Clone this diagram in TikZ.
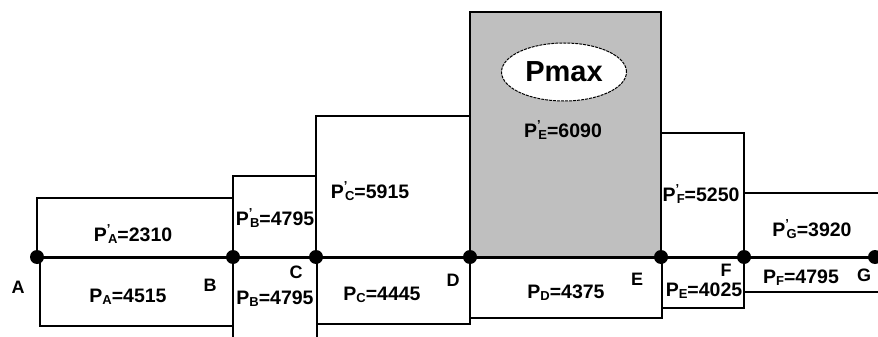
\documentclass[tikz,border=0pt]{standalone}
\usepackage{fontspec}
\setmainfont{Liberation Sans}
\usetikzlibrary{shapes.geometric}

\newcommand{\subl}[1]{\raisebox{-0.1em}{\fontsize{13}{13}\selectfont #1}}
\newcommand{\pval}[2]{P\subl{#1}=#2}
\newcommand{\ppval}[2]{P\raisebox{0.42em}{\fontsize{13}{13}\selectfont '}\kern-0.12em\subl{#1}=#2}

\begin{document}
\begin{tikzpicture}[x=1pt, y=-1pt, line width=1.2pt,
    font=\fontsize{18}{18}\selectfont\bfseries,
    dot/.style={circle, fill=black, inner sep=0pt, minimum size=14pt},
    val/.style={inner sep=0pt, font=\fontsize{19.5}{19.5}\selectfont\bfseries}]
  \useasboundingbox (0,0) rectangle (878,337);
  \coordinate (A) at (37,257);
  \coordinate (B) at (233,257);
  \coordinate (C) at (316,257);
  \coordinate (D) at (470,257);
  \coordinate (E) at (661,257);
  \coordinate (F) at (744,257);
  \coordinate (G) at (875,257);
  % upper part
  \fill[gray!50] (470,12) rectangle (661,257);
  \draw (470,12) rectangle (661,257);
  \draw (A) -- (37,198) -- (233,198) -- (B);
  \draw (B) -- (233,176) -- (316,176) -- (C);
  \draw (C) -- (316,116) -- (470,116) -- (D);
  \draw (E) -- (661,133) -- (744,133) -- (F);
  \draw (F) -- (744,193) -- (880,193);
  % lower part
  \draw (40,257) -- (40,326) -- (233,326) -- (B);
  \draw (233,257) -- (233,340);
  \draw (317,257) -- (317,340);
  \draw (317,324) -- (470,324) -- (D);
  \draw (470,318) -- (662,318) -- (662,257);
  \draw (662,308) -- (744,308) -- (F);
  \draw (744,292) -- (880,292);
  % beam
  \draw[line width=3pt] (A) -- (G);
  \foreach \p in {A,B,C,D,E,F,G}
    \node[dot] (n\p) at (\p) {};
  % point names
  \node (lA) at (18,287) {A};
  \node (lB) at (210,285) {B};
  \node (lC) at (296,272) {C};
  \node (lD) at (453,280) {D};
  \node (lE) at (637,279) {E};
  \node (lF) at (726,270) {F};
  \node (lG) at (864,275) {G};
  % values
  \node[val] (vA1) at (133,234) {\ppval{A}{2310}};
  \node[val] (vA) at (128,297) {\pval{A}{4515}};
  \node[val] (vB1) at (275,218) {\ppval{B}{4795}};
  \node[val] (vB) at (275,299) {\pval{B}{4795}};
  \node[val] (vC1) at (370,191) {\ppval{C}{5915}};
  \node[val] (vC) at (382,295) {\pval{C}{4445}};
  \node[val] (vE1) at (563,130) {\ppval{E}{6090}};
  \node[val] (vD) at (566,293) {\pval{D}{4375}};
  \node[val] (vF1) at (701,194) {\ppval{F}{5250}};
  \node[val] (vE) at (704,291) {\pval{E}{4025}};
  \node[val] (vG1) at (812,229) {\ppval{G}{3920}};
  \node[val] (vF) at (801,278) {\pval{F}{4795}};
  \node[ellipse, draw, fill=white, line width=1pt, dash pattern=on 3pt off 1pt,
    minimum width=125pt, minimum height=58pt, inner sep=0pt,
    font=\fontsize{29}{29}\selectfont\bfseries] (pmax) at (564,72) {Pmax};
\end{tikzpicture}
\end{document}
